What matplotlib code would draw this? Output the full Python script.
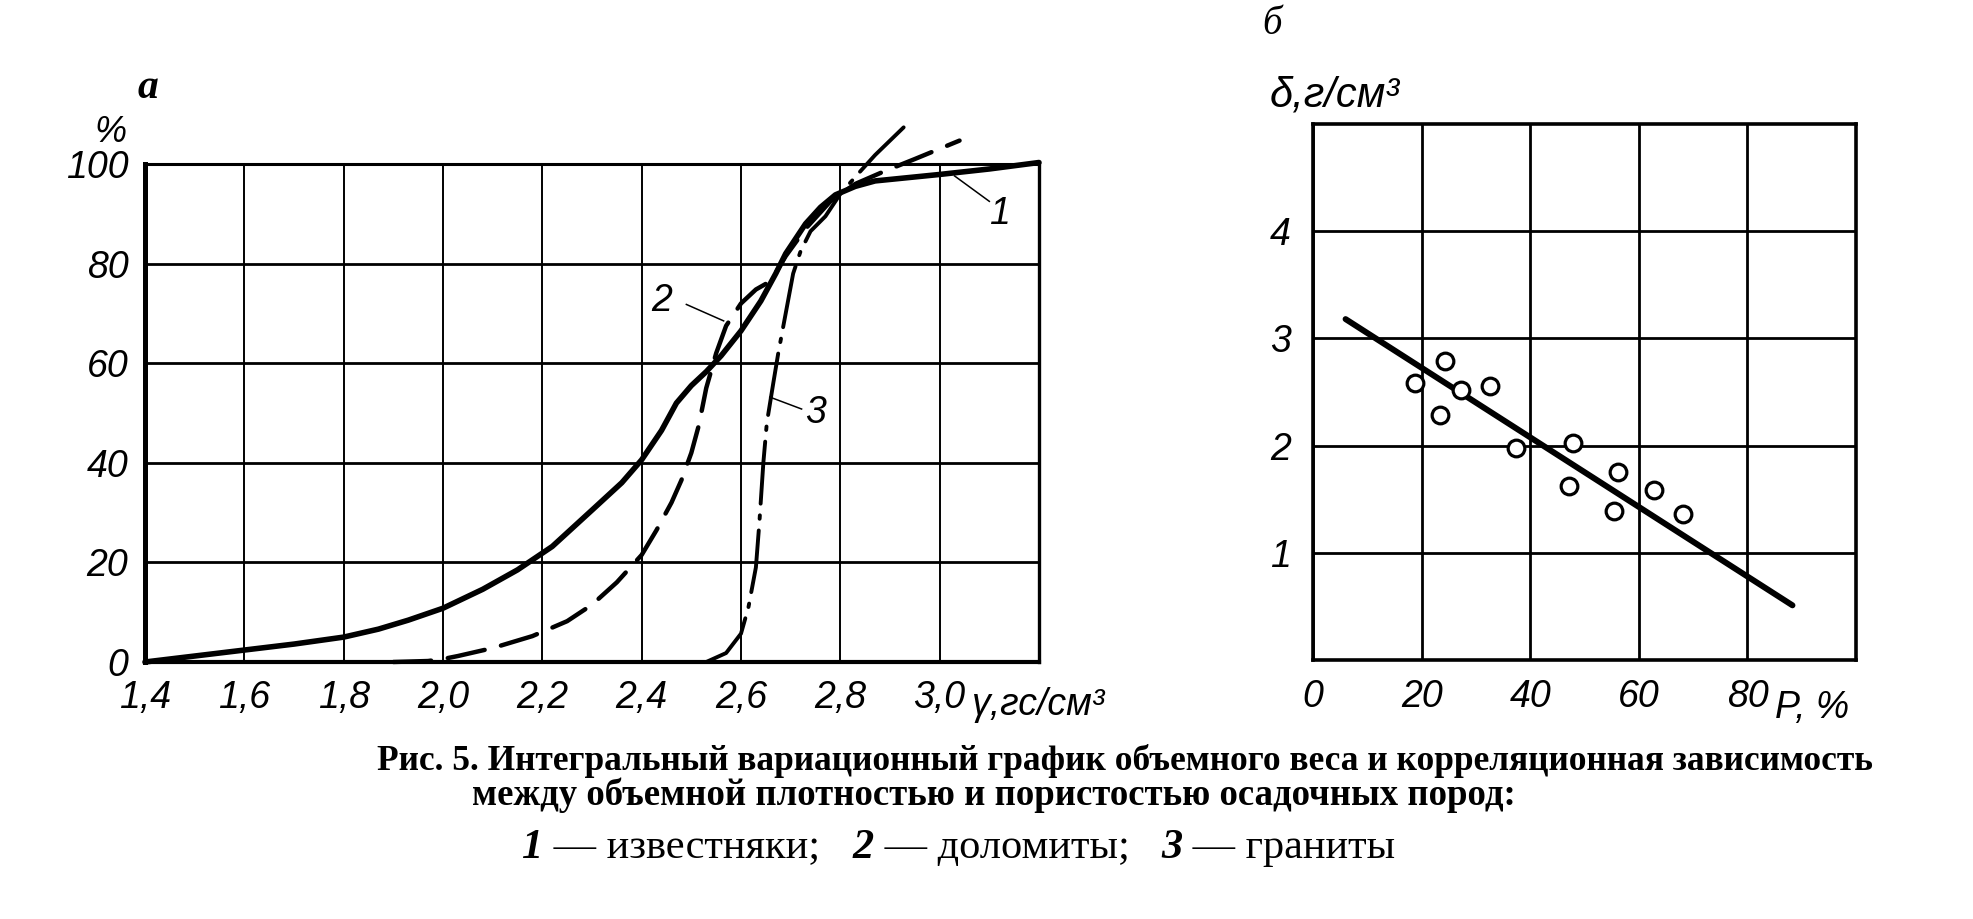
import matplotlib
matplotlib.use("Agg")
import matplotlib.pyplot as plt

# ---------------- data: panel а (cumulative curves) ----------------
x_ticks_a = [1.4, 1.6, 1.8, 2.0, 2.2, 2.4, 2.6, 2.8, 3.0]
x_ticklabels_a = ["1,4", "1,6", "1,8", "2,0", "2,2", "2,4", "2,6", "2,8", "3,0"]
y_ticks_a = [0, 20, 40, 60, 80, 100]
y_ticklabels_a = ["0", "20", "40", "60", "80", "100"]

# 1 — limestones (solid)
c1_x = [1.40, 1.50, 1.60, 1.70, 1.80, 1.87, 1.93, 2.00, 2.08, 2.15, 2.22, 2.30,
        2.36, 2.40, 2.44, 2.47, 2.50, 2.53, 2.56, 2.60, 2.64, 2.67, 2.69, 2.73,
        2.76, 2.79, 2.83, 2.87, 2.93, 3.00, 3.10, 3.20]
c1_y = [0.0, 1.2, 2.4, 3.6, 5.0, 6.6, 8.4, 10.8, 14.6, 18.5, 23.2, 30.5,
        36.0, 40.6, 46.5, 52.0, 55.5, 58.3, 61.5, 66.5, 72.5, 78.0, 82.0, 88.0,
        91.3, 93.8, 95.5, 96.6, 97.2, 97.9, 99.0, 100.3]

# 2 — dolomites (dashed)
c2_x = [1.90, 1.97, 2.00, 2.03, 2.10, 2.18, 2.25, 2.30, 2.35, 2.40, 2.43, 2.46,
        2.48, 2.50, 2.515, 2.53, 2.55, 2.57, 2.60, 2.63, 2.66, 2.69, 2.73, 2.78,
        2.83, 2.89, 2.95, 3.04]
c2_y = [0.0, 0.2, 0.6, 1.2, 2.8, 5.2, 8.2, 11.5, 16.0, 21.5, 26.5, 32.0,
        36.5, 42.0, 47.5, 55.0, 62.0, 67.5, 72.0, 74.8, 76.5, 81.5, 87.0, 92.5,
        96.0, 98.6, 101.0, 104.7]

# 3 — granites (dash-dot)
c3_x = [2.53, 2.57, 2.60, 2.615, 2.63, 2.637, 2.645, 2.652, 2.665, 2.675, 2.69,
        2.705, 2.72, 2.74, 2.77, 2.80, 2.84, 2.87, 2.93]
c3_y = [0.0, 1.8, 5.7, 11.0, 19.0, 28.0, 40.0, 48.0, 56.0, 62.0, 70.0,
        78.0, 82.5, 86.5, 89.5, 94.0, 98.5, 101.8, 107.6]

# curve labels: text, label position, leader start, leader end
curve_labels = ["1", "2", "3"]
label_pos = [(3.12, 90.0), (2.44, 72.5), (2.75, 50.0)]
leader_from = [(3.10, 92.5), (2.49, 71.8), (2.722, 50.8)]
leader_to = [(3.03, 97.6), (2.565, 68.5), (2.658, 53.2)]

# ---------------- data: panel б (density vs porosity) ----------------
porosity = [18.7, 24.3, 27.3, 32.6, 23.3, 37.3, 47.8, 56.2, 47.1, 62.8, 55.4, 68.2]
density = [2.58, 2.79, 2.52, 2.56, 2.29, 1.98, 2.02, 1.75, 1.62, 1.59, 1.39, 1.36]
fit_x = [6.0, 88.3]
fit_y = [3.18, 0.51]
x_ticks_b = [0, 20, 40, 60, 80]
x_ticklabels_b = ["0", "20", "40", "60", "80"]
y_ticks_b = [1, 2, 3, 4]
y_ticklabels_b = ["1", "2", "3", "4"]

caption_1 = "Рис. 5. Интегральный вариационный график объемного веса и корреляционная зависимость"
caption_2 = "между объемной плотностью и пористостью осадочных пород:"
legend_parts = [("1", True), (" — известняки;   ", False), ("2", True), (" — доломиты;   ", False),
                ("3", True), (" — граниты", False)]

# ---------------- figure ----------------
W, H = 1973, 919
fig = plt.figure(figsize=(W / 100, H / 100), dpi=100)
fig.patch.set_facecolor("white")

SANS = ["Liberation Sans", "DejaVu Sans"]
SERIF = ["Liberation Serif", "DejaVu Serif"]
TICKFONT = dict(family=SANS, style="italic", size=27)


def fx(px):
    return px / W


def fy(py):
    return 1 - py / H


# ---- panel а ----
axA = fig.add_axes([fx(145), fy(662), fx(1039) - fx(145), fy(164) - fy(662)])
axA.set_xlim(1.4, 3.2)
axA.set_ylim(0, 100)
axA.set_xticks(x_ticks_a)
axA.set_xticklabels(x_ticklabels_a, fontdict=TICKFONT)
axA.set_yticks(y_ticks_a)
axA.set_yticklabels(y_ticklabels_a, fontdict=TICKFONT)
axA.tick_params(length=0, pad=13)
axA.tick_params(axis="y", pad=12)
axA.xaxis.grid(True, color="black", lw=1.4)
axA.yaxis.grid(True, color="black", lw=2.0)
axA.set_axisbelow(True)
for side, w in [("left", 3.6), ("bottom", 3.0), ("top", 2.2), ("right", 2.4)]:
    axA.spines[side].set_linewidth(w)

axA.plot(c1_x, c1_y, color="black", lw=4.0, solid_capstyle="round",
         solid_joinstyle="round", clip_on=False, zorder=5)
axA.plot(c2_x, c2_y, color="black", lw=3.2, ls=(0, (8.5, 3.8)),
         dash_capstyle="round", clip_on=False, zorder=4)
axA.plot(c3_x, c3_y, color="black", lw=2.8, ls=(0, (16, 3, 0.9, 3)),
         dash_capstyle="round", clip_on=False, zorder=4)

for t, p, a, b in zip(curve_labels, label_pos, leader_from, leader_to):
    axA.plot([a[0], b[0]], [a[1], b[1]], color="black", lw=1.1, clip_on=False, zorder=6)
    axA.text(p[0], p[1], t, ha="center", va="center", zorder=7, **TICKFONT)

axA.text(3.065, -5.0, "γ,гс/см³", ha="left", va="top", **TICKFONT)

fig.text(fx(110), fy(133), "%", ha="center", va="center",
         family=SANS, style="italic", size=26)
fig.text(fx(148), fy(88), "а", ha="center", va="center",
         family=SERIF, style="italic", weight="bold", size=30)

# ---- panel б ----
axB = fig.add_axes([fx(1313), fy(660), fx(1856) - fx(1313), fy(124) - fy(660)])
axB.set_xlim(0, 100)
axB.set_ylim(0, 5)
axB.set_xticks(x_ticks_b)
axB.set_xticklabels(x_ticklabels_b, fontdict=TICKFONT)
axB.set_yticks(y_ticks_b)
axB.set_yticklabels(y_ticklabels_b, fontdict=TICKFONT)
axB.tick_params(length=0, pad=14)
axB.tick_params(axis="y", pad=16)
axB.grid(True, color="black", lw=2.0)
axB.set_axisbelow(True)
for side in ["left", "bottom", "top", "right"]:
    axB.spines[side].set_linewidth(2.6)

axB.plot(fit_x, fit_y, color="black", lw=4.3, solid_capstyle="round", zorder=4)
axB.plot(porosity, density, ls="none", marker="o", ms=12, mfc="white",
         mec="black", mew=2.3, zorder=5)

axB.text(85, -0.28, "P, %", ha="left", va="top", **TICKFONT)
fig.text(fx(1270), fy(96), "δ,г/см³", ha="left", va="center",
         family=SANS, style="italic", size=30)
fig.text(fx(1272), fy(25), "б", ha="center", va="center",
         family=SERIF, style="italic", size=28)

# ---- caption ----
fig.text(fx(377), fy(761), caption_1, ha="left", va="center",
         family=SERIF, weight="bold", size=25.5)
fig.text(fx(472), fy(795), caption_2, ha="left", va="center",
         family=SERIF, weight="bold", size=26.5)

# third line: bold italic numerals + regular text, chained left to right
chain = []
for txt, is_num in legend_parts:
    kw = dict(family=SERIF, size=30.5,
              style="italic" if is_num else "normal",
              weight="bold" if is_num else "normal")
    chain.append(fig.text(fx(522), fy(858), txt, ha="left", va="baseline", **kw))

fig.canvas.draw()
renderer = fig.canvas.get_renderer()
x_px = chain[0].get_window_extent(renderer).x1
base_y = chain[0].get_position()[1]
for t in chain[1:]:
    t.set_position((x_px / W, base_y))
    x_px = t.get_window_extent(renderer).x1

fig.savefig("out.png", dpi=100, facecolor="white")
